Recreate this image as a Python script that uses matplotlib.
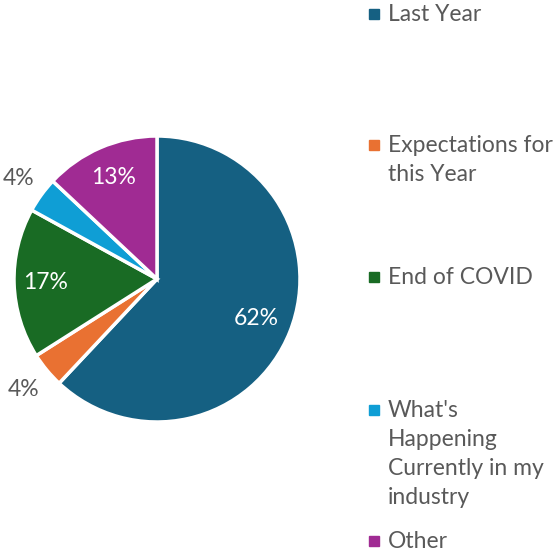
import numpy as np
import matplotlib
matplotlib.use("Agg")
import matplotlib.pyplot as plt
from matplotlib.patches import Rectangle

categories = ["Last Year", "Expectations for\nthis Year", "End of COVID",
              "What's\nHappening\nCurrently in my\nindustry", "Other"]
values = [62, 4, 17, 4, 13]
colors = ["#156082", "#E97132", "#196B24", "#0F9ED5", "#A02B93"]
label_colors = ["white", "#595959", "white", "#595959", "white"]
label_dist = [0.75, 1.21, 0.78, 1.20, 0.77]

plt.rcParams['font.family'] = ['Lato', 'DejaVu Sans']
W, H = 559, 553
fig = plt.figure(figsize=(W/100, H/100), dpi=100)

cx, cy, r = 157, 279, 143
ax = fig.add_axes([(cx - r)/W, (H - cy - r)/H, 2*r/W, 2*r/H])
wedges, _ = ax.pie(values, colors=colors, startangle=90, counterclock=False,
                   wedgeprops=dict(edgecolor="white", linewidth=2.5))
ax.set_xlim(-1, 1)
ax.set_ylim(-1, 1)
ax.set_aspect('equal')
ax.axis('off')

for w, v, c, d in zip(wedges, values, label_colors, label_dist):
    mid = np.deg2rad((w.theta1 + w.theta2) / 2)
    ax.text(d*np.cos(mid), d*np.sin(mid), f"{v}%", ha='center', va='center',
            color=c, fontsize=16.5, clip_on=False)

legend_y = [14, 145, 277, 410, 541]
line_gap = 29
for lab, col, y in zip(categories, colors, legend_y):
    fig.patches.append(Rectangle(((369)/W, (H - y - 5)/H), 10/W, 10/H,
                                 transform=fig.transFigure, color=col))
    for i, line in enumerate(lab.split("\n")):
        fig.text(388/W, (H - y - 7 - i*line_gap)/H, line, ha='left', va='baseline',
                 color="#595959", fontsize=16.5)

fig.savefig("out.png", dpi=100)
